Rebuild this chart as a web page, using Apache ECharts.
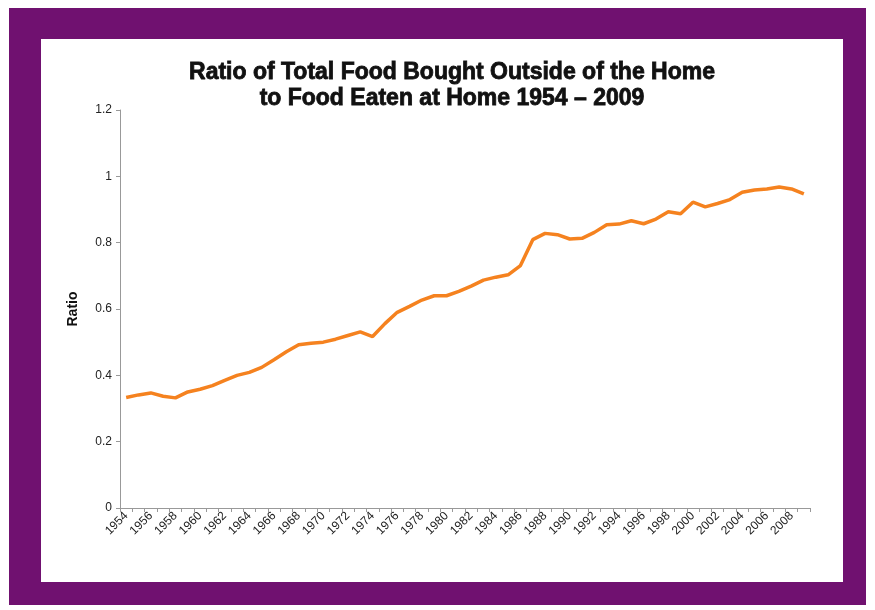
<!DOCTYPE html>
<html>
<head>
<meta charset="utf-8">
<script src="https://cdn.jsdelivr.net/npm/echarts@6/dist/echarts.min.js"></script>
<style>
  html, body { margin: 0; padding: 0; background: #fff; }
  .frame { position: absolute; left: 9px; top: 8px; width: 857px; height: 597px; background: #701170; }
  .inner { position: absolute; left: 41px; top: 39px; width: 802px; height: 543px; background: #fff; }
  #chart { position: absolute; left: 0; top: 0; width: 875px; height: 610px; }
</style>
</head>
<body>
<div class="frame"></div>
<div class="inner"></div>
<div id="chart"></div>
<script>
// years 1954 - 2009
const years = []
for (let y = 1954; y <= 2009; y++) years.push(String(y))

// ratio of food away from home to food at home
const ratio = [
  0.333, 0.341, 0.347, 0.337, 0.332, 0.350, 0.358, 0.369, 0.385, 0.400,
  0.409, 0.424, 0.447, 0.471, 0.492, 0.497, 0.500, 0.509, 0.520, 0.531,
  0.517, 0.556, 0.590, 0.608, 0.627, 0.640, 0.640, 0.653, 0.669, 0.687,
  0.696, 0.703, 0.731, 0.809, 0.828, 0.824, 0.811, 0.813, 0.831, 0.854,
  0.856, 0.866, 0.857, 0.871, 0.893, 0.887, 0.922, 0.908, 0.918, 0.930,
  0.952, 0.959, 0.962, 0.968, 0.962, 0.947
]

const yTicks = [0, 0.2, 0.4, 0.6, 0.8, 1, 1.2]

const chart = echarts.init(document.getElementById('chart'))

const option = {
  animation: false,
  title: {
    text: 'Ratio of Total Food Bought Outside of the Home\nto Food Eaten at Home 1954 \u2013 2009',
    left: 447,
    textAlign: 'center',
    top: 55,
    textStyle: {
      fontFamily: 'Liberation Sans',
      fontWeight: 'bold',
      fontSize: 23,
      lineHeight: 26,
      color: '#111',
      textBorderColor: '#111',
      textBorderWidth: 0.8
    }
  },
  grid: {left: 120, right: 65, top: 110, bottom: 102},
  xAxis: {
    type: 'category',
    data: years,
    boundaryGap: true,
    axisLine: {lineStyle: {color: '#999', width: 1}},
    axisTick: {show: true, interval: 0, length: 4, lineStyle: {color: '#999'}},
    axisLabel: {
      interval: 1,
      rotate: 45,
      color: '#222',
      fontFamily: 'Liberation Sans',
      fontSize: 12,
      margin: 6
    }
  },
  yAxis: {
    type: 'value',
    min: yTicks[0],
    max: yTicks[yTicks.length - 1],
    interval: 0.2,
    name: 'Ratio',
    nameLocation: 'middle',
    nameGap: 40,
    nameTextStyle: {
      fontFamily: 'Liberation Sans',
      fontWeight: 'bold',
      fontSize: 14,
      color: '#111'
    },
    splitLine: {show: false},
    axisLine: {show: true, lineStyle: {color: '#999', width: 1}},
    axisTick: {show: true, length: 4, lineStyle: {color: '#999'}},
    axisLabel: {
      color: '#222',
      fontFamily: 'Liberation Sans',
      fontSize: 12,
      margin: 8,
      formatter: v => String(Math.round(v * 10) / 10)
    }
  },
  series: [{
    type: 'line',
    data: ratio,
    symbol: 'none',
    smooth: false,
    lineStyle: {color: '#f5821f', width: 3.5},
    itemStyle: {color: '#f5821f'}
  }]
}

chart.setOption(option)
</script>
</body>
</html>
